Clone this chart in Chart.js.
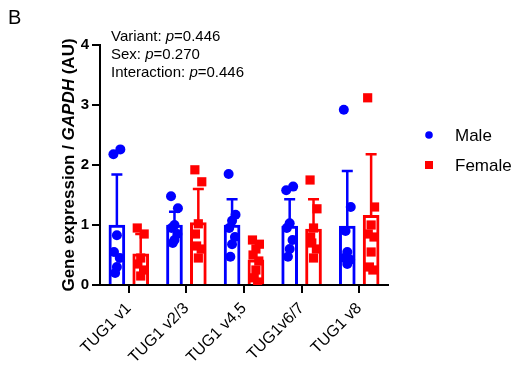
<!DOCTYPE html>
<html>
<head>
<meta charset="utf-8">
<script src="https://cdn.jsdelivr.net/npm/chart.js@4"></script>
<style>
  html, body { margin: 0; padding: 0; background: #fff; }
  #wrap { width: 514px; height: 368px; position: relative; }
</style>
</head>
<body>
<div id="wrap"><canvas id="chart"></canvas></div>
<script>
// data
const categories = ['TUG1 v1', 'TUG1 v2/3', 'TUG1 v4,5', 'TUG1v6/7', 'TUG1 v8'];
const maleMean = [1.0, 1.0, 1.0, 0.98, 0.98];
const femaleMean = [0.52, 1.04, 0.42, 0.93, 1.16];
const maleSD = [0.84, 0.22, 0.43, 0.45, 0.92];
const femaleSD = [0.33, 0.56, 0.3, 0.5, 1.02];
const malePoints = [
  [2.18, 2.26, 0.83, 0.55, 0.45, 0.3, 0.2],
  [1.48, 1.28, 1.0, 0.95, 0.85, 0.75, 0.7],
  [1.85, 1.17, 1.07, 0.95, 0.8, 0.68, 0.47],
  [1.58, 1.64, 1.03, 0.95, 0.75, 0.6, 0.47],
  [2.92, 1.3, 0.55, 0.45, 0.42, 0.35, 0.9]
];
const femalePoints = [
  [0.95, 0.85, 0.45, 0.35, 0.25, 0.15],
  [1.92, 1.72, 1.02, 0.85, 0.6, 0.45, 0.65],
  [0.75, 0.68, 0.6, 0.5, 0.4, 0.25, 0.12, 0.05],
  [1.75, 1.27, 0.95, 0.8, 0.6, 0.45, 0.7],
  [3.12, 1.3, 1.0, 0.85, 0.8, 0.55, 0.3, 0.25]
];
const yTicks = [0, 1, 2, 3, 4];
const statLines = [['Variant: ', '0.446'], ['Sex: ', '0.270'], ['Interaction: ', '0.446']];

const BLUE = '#0000ff';
const RED = '#ff0000';
const FONT = '"Liberation Sans", Arial, sans-serif';

// male bar left of the tick, female right of it
const SHIFT = 0.207;
// small horizontal spread so the dots don't stack
const spread = [-0.06, 0.06, 0, -0.05, 0.05, 0, -0.03, 0.03];
const toBars = (means, shift) => means.map((v, i) => ({ x: i + shift, y: v }));
const toPoints = (groups, shift) => groups.flatMap((vals, i) =>
  vals.map((v, j) => ({ x: i + shift + spread[j % spread.length], y: v })));

const errorBars = {
  id: 'errorBars',
  afterDatasetsDraw(chart) {
    const ctx = chart.ctx;
    const y = chart.scales.y;
    [[0, maleMean, maleSD, BLUE], [1, femaleMean, femaleSD, RED]].forEach(([idx, means, sds, color]) => {
      const meta = chart.getDatasetMeta(idx);
      meta.data.forEach((bar, i) => {
        const top = y.getPixelForValue(means[i] + sds[i]);
        const base = y.getPixelForValue(means[i]);
        ctx.save();
        ctx.strokeStyle = color;
        ctx.lineWidth = 2.5;
        ctx.beginPath();
        ctx.moveTo(bar.x, base);
        ctx.lineTo(bar.x, top);
        ctx.moveTo(bar.x - 5.5, top);
        ctx.lineTo(bar.x + 5.5, top);
        ctx.stroke();
        ctx.restore();
      });
    });
  }
};

const extras = {
  id: 'extras',
  afterDraw(chart) {
    const ctx = chart.ctx;
    ctx.save();
    ctx.fillStyle = '#000';
    ctx.textBaseline = 'middle';

    // panel letter
    ctx.font = `20px ${FONT}`;
    ctx.fillText('B', 8, 18);

    // stats
    statLines.forEach(([label, p], k) => {
      let x = 111;
      const yy = 37 + k * 18;
      ctx.font = `15px ${FONT}`;
      ctx.fillText(label, x, yy);
      x += ctx.measureText(label).width;
      ctx.font = `italic 15px ${FONT}`;
      ctx.fillText('p', x, yy);
      x += ctx.measureText('p').width;
      ctx.font = `15px ${FONT}`;
      ctx.fillText('=' + p, x, yy);
    });

    // y title with italic gene name
    const parts = [['Gene expression / ', 'bold'], ['GAPDH', 'italic bold'], [' (AU)', 'bold']];
    ctx.save();
    ctx.translate(69, 165);
    ctx.rotate(-Math.PI / 2);
    let total = 0;
    parts.forEach(([t, s]) => { ctx.font = `${s} 17px ${FONT}`; total += ctx.measureText(t).width; });
    let x = -total / 2;
    parts.forEach(([t, s]) => {
      ctx.font = `${s} 17px ${FONT}`;
      ctx.fillText(t, x, 0);
      x += ctx.measureText(t).width;
    });
    ctx.restore();

    // legend
    ctx.font = `17px ${FONT}`;
    ctx.fillStyle = BLUE;
    ctx.beginPath();
    ctx.arc(429, 135, 3.8, 0, Math.PI * 2);
    ctx.fill();
    ctx.fillStyle = RED;
    ctx.fillRect(425, 161, 8, 8);
    ctx.fillStyle = '#000';
    ctx.fillText('Male', 455, 136);
    ctx.fillText('Female', 455, 166);
    ctx.restore();
  }
};

new Chart(document.getElementById('chart'), {
  type: 'bar',
  data: {
    datasets: [
      {
        label: 'Male', data: toBars(maleMean, -SHIFT), backgroundColor: '#fff', borderColor: BLUE,
        borderWidth: 3, barThickness: 16, grouped: false, order: 3
      },
      {
        label: 'Female', data: toBars(femaleMean, SHIFT), backgroundColor: '#fff', borderColor: RED,
        borderWidth: 3, barThickness: 16, grouped: false, order: 3
      },
      {
        type: 'scatter', label: 'Male pts', data: toPoints(malePoints, -SHIFT),
        pointStyle: 'circle', pointRadius: 5, backgroundColor: BLUE, borderWidth: 0, order: 1
      },
      {
        type: 'scatter', label: 'Female pts', data: toPoints(femalePoints, SHIFT),
        pointStyle: 'rect', pointRadius: 6.5, backgroundColor: RED, borderWidth: 0, order: 1
      }
    ]
  },
  options: {
    responsive: true,
    maintainAspectRatio: false,
    animation: false,
    layout: { padding: { top: 45, right: 126, left: 0, bottom: 0 } },
    plugins: { legend: { display: false }, tooltip: { enabled: false } },
    scales: {
      x: {
        type: 'linear',
        min: -0.5, max: categories.length - 0.5,
        offset: false,
        afterBuildTicks: s => { s.ticks = categories.map((c, i) => ({ value: i })); },
        grid: { display: true, drawOnChartArea: false, drawTicks: true, tickLength: 8, offset: false, color: '#000', lineWidth: 2 },
        border: { display: true, color: '#000', width: 2 },
        ticks: {
          color: '#000', font: { family: FONT, size: 16 }, minRotation: 45, maxRotation: 45, padding: 6,
          callback: v => categories[v]
        },
        afterFit: s => { s.height = 83; }
      },
      y: {
        min: yTicks[0], max: yTicks[yTicks.length - 1],
        afterBuildTicks: s => { s.ticks = yTicks.map(v => ({ value: v })); },
        grid: { display: true, drawOnChartArea: false, drawTicks: true, tickLength: 8, color: '#000', lineWidth: 2 },
        border: { display: true, color: '#000', width: 2 },
        ticks: { color: '#000', font: { family: FONT, size: 15, weight: 'bold' }, padding: 3 },
        afterFit: s => { s.width = 100; }
      }
    }
  },
  plugins: [errorBars, extras]
});
</script>
</body>
</html>
